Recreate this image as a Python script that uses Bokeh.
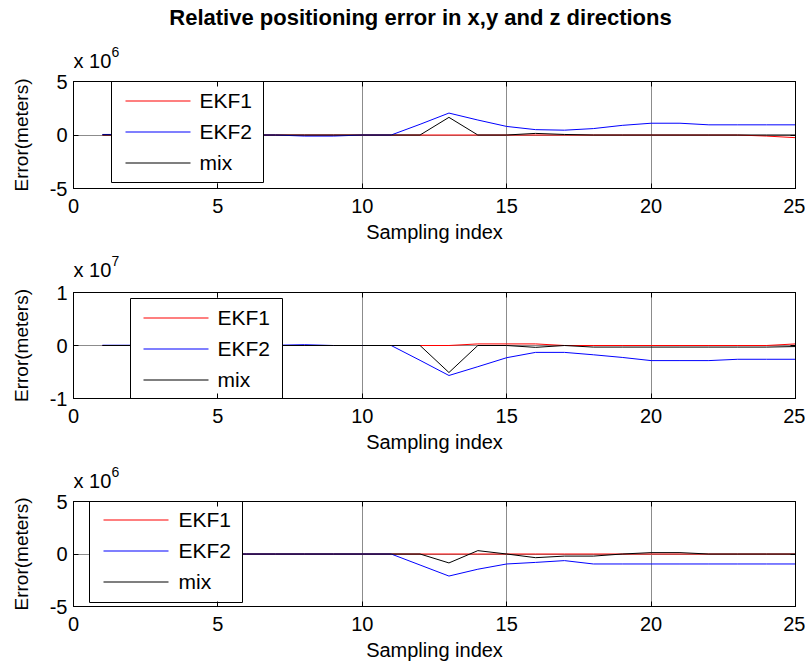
from bokeh.plotting import figure
from bokeh.models import (FixedTicker, CustomJSTickFormatter, LinearAxis, Label, Range1d)
from bokeh.core.properties import value
from bokeh.layouts import column
from bokeh.embed import file_html
from bokeh.resources import INLINE

# ---------------- data ----------------
sample_index = list(range(1, 26))
x_ticks = [0, 5, 10, 15, 20, 25]

# x direction (meters)
x_ekf1 = [0, 0, 0, 0, 0, 0, 0, 0, 0, 0, 0, 0, 0, 0, 0, 0, 0, 0, 0, 0, 0, 0, 0, -0.1e6, -0.25e6]
x_ekf2 = [0.05e6, 0.05e6, 0.02e6, 0, 0, 0, 0, -0.1e6, -0.1e6, 0, 0, 1.0e6, 2.05e6, 1.4e6, 0.8e6,
          0.5e6, 0.45e6, 0.6e6, 0.9e6, 1.1e6, 1.1e6, 0.95e6, 0.95e6, 0.95e6, 0.95e6]
x_mix = [0, 0, 0, 0, 0, 0, 0, 0, 0, 0, 0, 0, 1.65e6, 0, 0, 0.15e6, 0.05e6, 0, 0, 0, 0, 0, 0, 0, 0]

# y direction (meters)
y_ekf1 = [0, 0, 0, 0, 0, 0, 0, 0, 0, 0, 0, 0, 0, 0.3e6, 0.3e6, 0.3e6, 0, 0, 0, 0, 0, 0, 0, 0, 0.3e6]
y_ekf2 = [0.05e6, 0.05e6, 0.05e6, 0.05e6, 0.05e6, 0.05e6, 0.05e6, 0.15e6, 0, 0, 0, -2.8e6, -5.66e6,
          -4.0e6, -2.3e6, -1.3e6, -1.3e6, -1.75e6, -2.25e6, -2.85e6, -2.85e6, -2.85e6, -2.6e6,
          -2.6e6, -2.6e6]
y_mix = [0, 0, 0, 0, 0, 0, 0, 0, 0, 0, 0, 0, -5.1e6, 0, 0, -0.35e6, 0, -0.3e6, -0.3e6, -0.3e6,
         -0.3e6, -0.3e6, -0.3e6, -0.3e6, -0.2e6]

# z direction (meters)
z_ekf1 = [0] * 25
z_ekf2 = [0, 0, 0, 0, 0, 0, 0, 0, 0, 0, 0, -1.05e6, -2.1e6, -1.45e6, -0.95e6, -0.8e6, -0.63e6,
          -0.95e6, -0.95e6, -0.95e6, -0.95e6, -0.95e6, -0.95e6, -0.95e6, -0.95e6]
z_mix = [0, 0, 0, 0, 0, 0, 0, 0, 0, 0, 0, 0, -0.85e6, 0.32e6, 0, -0.35e6, -0.2e6, -0.2e6, 0,
         0.13e6, 0.13e6, 0, 0, 0, 0]

series_names = ["EKF1", "EKF2", "mix"]
series_colors = ["#ff0000", "#0000ff", "#000000"]
legend_colors = ["#fe0101", "#0101fe", "#010101"]
title_text = "Relative positioning error in x,y and z directions"

FONT = "Liberation Sans"
W = 805
LEFT, RIGHT = 73, 10
X0, X1 = 0, 25


def header(height, exponent, mid_y, title=None):
    """Strip above a panel holding the scale factor (and the main title)."""
    h = figure(width=W, height=height, output_backend="svg", toolbar_location=None,
               x_range=Range1d(0, 1), y_range=Range1d(0, 1),
               x_axis_location=None, y_axis_location=None,
               min_border_left=LEFT, min_border_right=RIGHT, min_border_top=0,
               min_border_bottom=0)
    h.grid.visible = False
    h.outline_line_color = None
    h.background_fill_color = None
    h.border_fill_color = "white"
    h.add_layout(Label(x=0, y=mid_y, x_units="screen", y_units="screen",
                       text="x 10", text_font=FONT, text_font_size="20px",
                       text_baseline="middle", text_align="left", text_color="black"))
    h.add_layout(Label(x=38, y=mid_y + 9, x_units="screen", y_units="screen",
                       text=str(exponent), text_font=FONT, text_font_size="14px",
                       text_baseline="middle", text_align="left", text_color="black"))
    if title:
        h.add_layout(Label(x=347, y=height - 17, x_units="screen",
                           y_units="screen", text=title, text_font=FONT,
                           text_font_size="22px", text_font_style="bold",
                           text_baseline="middle", text_align="center", text_color="black"))
    return h


def make_panel(height, top, bottom, exponent, lim, ekf1, ekf2, mix, leg):
    """leg = box/rows/glyph/text positions in pixels relative to the frame's top-left."""
    scale = 10 ** exponent
    ylo, yhi = -lim * scale, lim * scale
    p = figure(width=W, height=height, output_backend="svg", toolbar_location=None,
               x_range=Range1d(X0, X1), y_range=Range1d(ylo, yhi),
               min_border_left=LEFT, min_border_right=RIGHT, min_border_top=top,
               min_border_bottom=bottom)
    frame_w = W - LEFT - RIGHT
    frame_h = height - top - bottom
    p.outline_line_color = "black"
    p.outline_line_width = 1
    p.background_fill_color = None
    p.border_fill_color = "white"

    xt = FixedTicker(ticks=x_ticks)
    yt = FixedTicker(ticks=[ylo, 0, yhi])
    fmt = CustomJSTickFormatter(args=dict(s=scale), code="return (tick/s).toFixed(0);")

    for ax in p.xaxis:
        ax.ticker = xt
        ax.axis_label = "Sampling index"
    for ax in p.yaxis:
        ax.ticker = yt
        ax.formatter = fmt
        ax.axis_label = "Error(meters)"
    for ax in p.xaxis + p.yaxis:
        ax.major_tick_in = 5
        ax.major_tick_out = 0
        ax.minor_tick_in = 0
        ax.minor_tick_out = 0
        ax.axis_line_color = "black"
        ax.axis_line_width = 1
        ax.major_tick_line_color = "black"
        ax.major_label_text_font = FONT
        ax.major_label_text_font_size = "20px"
        ax.major_label_text_color = "black"
        ax.axis_label_text_font = FONT
        ax.axis_label_text_font_style = "normal"
        ax.axis_label_text_color = "black"
    p.xaxis.axis_label_text_font_size = "20px"
    p.yaxis.axis_label_text_font_size = "19px"
    p.xaxis.major_label_standoff = 10
    p.xaxis.axis_label_standoff = 5
    p.yaxis.major_label_standoff = 6
    p.yaxis.axis_label_standoff = 15

    # mirror axes (ticks only) on the right and top
    for loc, tk in (("right", yt), ("above", xt)):
        ax = LinearAxis(ticker=tk, major_tick_in=5, major_tick_out=0, minor_tick_in=0,
                        minor_tick_out=0, major_label_text_font_size="0px",
                        major_label_standoff=0, axis_line_color="black", axis_line_width=1,
                        formatter=CustomJSTickFormatter(code="return '';"))
        p.add_layout(ax, loc)

    p.xgrid.ticker = xt
    p.ygrid.ticker = yt
    p.xgrid.grid_line_color = "#8c8c8c"
    p.ygrid.grid_line_color = "#8c8c8c"
    p.xgrid.grid_line_width = 1
    p.ygrid.grid_line_width = 1

    for ys, c in zip((ekf1, ekf2, mix), series_colors):
        p.line(sample_index, ys, line_color=c, line_width=1)

    # legend box (opaque, on top of the curves), placed in pixel terms of the frame
    def dx(px):
        return X0 + px / frame_w * (X1 - X0)

    def dy(py):
        return yhi - py / frame_h * (yhi - ylo)

    bl, br, bt, bb, row0, step, gl, gr, tx = leg
    p.quad(left=[dx(bl)], right=[dx(br)], top=[dy(bt)], bottom=[dy(bb)],
           fill_color="white", line_color="black", line_width=1)
    for i, c in enumerate(legend_colors):
        yy = dy(row0 + i * step + 0.5)
        p.line([dx(gl), dx(gr)], [yy, yy], line_color=c, line_width=1.2)
    rows = [dy(row0 + i * step) for i in range(3)]
    p.text(x=[dx(tx)] * 3, y=rows, text=series_names, text_font=value(FONT),
           text_font_size="21px", text_baseline="middle", text_align="left",
           text_color="black")
    return p


h1 = header(72, 6, 11.5, title=title_text)
p1 = make_panel(178, 9, 62, 6, 5, x_ekf1, x_ekf2, x_mix,
                (38, 190, 0, 101, 19, 31, 52, 117, 126))
h2 = header(31, 7, 12)
p2 = make_panel(179, 11, 62, 7, 1, y_ekf1, y_ekf2, y_mix,
                (57, 209, 6, 106, 25, 31, 70, 135, 144))
h3 = header(30, 6, 10)
p3 = make_panel(173, 11, 57, 6, 5, z_ekf1, z_ekf2, z_mix,
                (16, 169, 0, 101, 18, 31, 30, 95, 105))

layout = column(h1, p1, h2, p2, h3, p3, spacing=0)
open("out.html", "w").write(file_html(layout, INLINE))
